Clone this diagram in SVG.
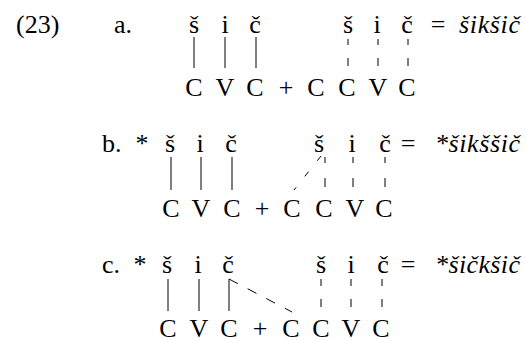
<svg xmlns="http://www.w3.org/2000/svg" width="526" height="341" viewBox="0 0 526 341">
<style>
text{font-family:'Liberation Serif','DejaVu Serif',serif;font-size:26px;fill:#000}
.m{text-anchor:middle}
.it{font-style:italic}
line{stroke:#000;stroke-width:1}
.da{stroke-dasharray:6 13 8}
.db{stroke-dasharray:6 15 9}
.dc{stroke-dasharray:7 13 8}
</style>
<rect width="526" height="341" fill="#fff"/>
<g font-family="Liberation Serif, DejaVu Serif, serif">
<text x="16" y="33">(23)</text>
<g id="row-a">
<text x="114" y="33">a.</text>
<g id="a-top-left"><text class="m" x="194" y="33">š</text><text class="m" x="225" y="33">i</text><text class="m" x="255" y="33">č</text></g>
<g id="a-bottom"><text class="m" x="194" y="96">C</text><text class="m" x="225" y="96">V</text><text class="m" x="255" y="96">C</text><text class="m" x="286" y="96">+</text><text class="m" x="316" y="96">C</text><text class="m" x="347" y="96">C</text><text class="m" x="378" y="96">V</text><text class="m" x="407" y="96">C</text></g>
<g id="a-top-right"><text class="m" x="348" y="33">š</text><text class="m" x="377" y="33">i</text><text class="m" x="407" y="33">č</text><text class="m" x="438" y="33">=</text><text class="it" x="459" y="33" textLength="61" lengthAdjust="spacing">šikšič</text></g>
</g>
<g id="row-b">
<text x="102" y="152">b.</text><text class="m" x="142" y="152">*</text>
<g id="b-top-left"><text class="m" x="170" y="152">š</text><text class="m" x="200" y="152">i</text><text class="m" x="231" y="152">č</text></g>
<g id="b-bottom"><text class="m" x="171" y="217">C</text><text class="m" x="201" y="217">V</text><text class="m" x="232" y="217">C</text><text class="m" x="262" y="217">+</text><text class="m" x="292" y="217">C</text><text class="m" x="324" y="217">C</text><text class="m" x="355" y="217">V</text><text class="m" x="384" y="217">C</text></g>
<g id="b-top-right"><text class="m" x="319" y="152">š</text><text class="m" x="352" y="152">i</text><text class="m" x="385" y="152">č</text><text class="m" x="408" y="152">=</text><text class="it" x="435" y="152" textLength="85" lengthAdjust="spacing">*šikššič</text></g>
</g>
<g id="row-c">
<text x="102" y="273">c.</text><text class="m" x="140" y="273">*</text>
<g id="c-top-left"><text class="m" x="167" y="273">š</text><text class="m" x="198" y="273">i</text><text class="m" x="228" y="273">č</text></g>
<g id="c-bottom"><text class="m" x="168" y="337">C</text><text class="m" x="199" y="337">V</text><text class="m" x="229" y="337">C</text><text class="m" x="260" y="337">+</text><text class="m" x="291" y="337">C</text><text class="m" x="321" y="337">C</text><text class="m" x="351" y="337">V</text><text class="m" x="381" y="337">C</text></g>
<g id="c-top-right"><text class="m" x="321" y="273">š</text><text class="m" x="351" y="273">i</text><text class="m" x="383" y="273">č</text><text class="m" x="408" y="273">=</text><text class="it" x="435" y="273" textLength="85" lengthAdjust="spacing">*šičkšič</text></g>
</g>
</g>
<g id="connectors">
<line x1="194" y1="37" x2="194" y2="68"/><line x1="225" y1="37" x2="225" y2="68"/><line x1="256" y1="37" x2="256" y2="68"/>
<line class="da" x1="348" y1="39" x2="348" y2="67"/><line class="da" x1="378" y1="39" x2="378" y2="67"/><line class="da" x1="408" y1="39" x2="408" y2="67"/>
<line x1="171" y1="157" x2="171" y2="190"/><line x1="201" y1="157" x2="201" y2="190"/><line x1="232" y1="157" x2="232" y2="190"/>
<line class="db" x1="325" y1="157" x2="325" y2="190"/><line class="db" x1="353" y1="157" x2="353" y2="190"/><line class="db" x1="385" y1="157" x2="385" y2="190"/>
<line x1="321" y1="156" x2="294" y2="190" stroke-dasharray="6 14"/>
<line x1="168" y1="279" x2="168" y2="311"/><line x1="199" y1="279" x2="199" y2="311"/><line x1="229" y1="279" x2="229" y2="311"/>
<line x1="229" y1="279" x2="292" y2="312" stroke-dasharray="10 11"/>
<line class="dc" x1="321" y1="279" x2="321" y2="310"/><line class="dc" x1="351" y1="279" x2="351" y2="310"/><line class="dc" x1="382" y1="279" x2="382" y2="310"/>
</g>
</svg>
